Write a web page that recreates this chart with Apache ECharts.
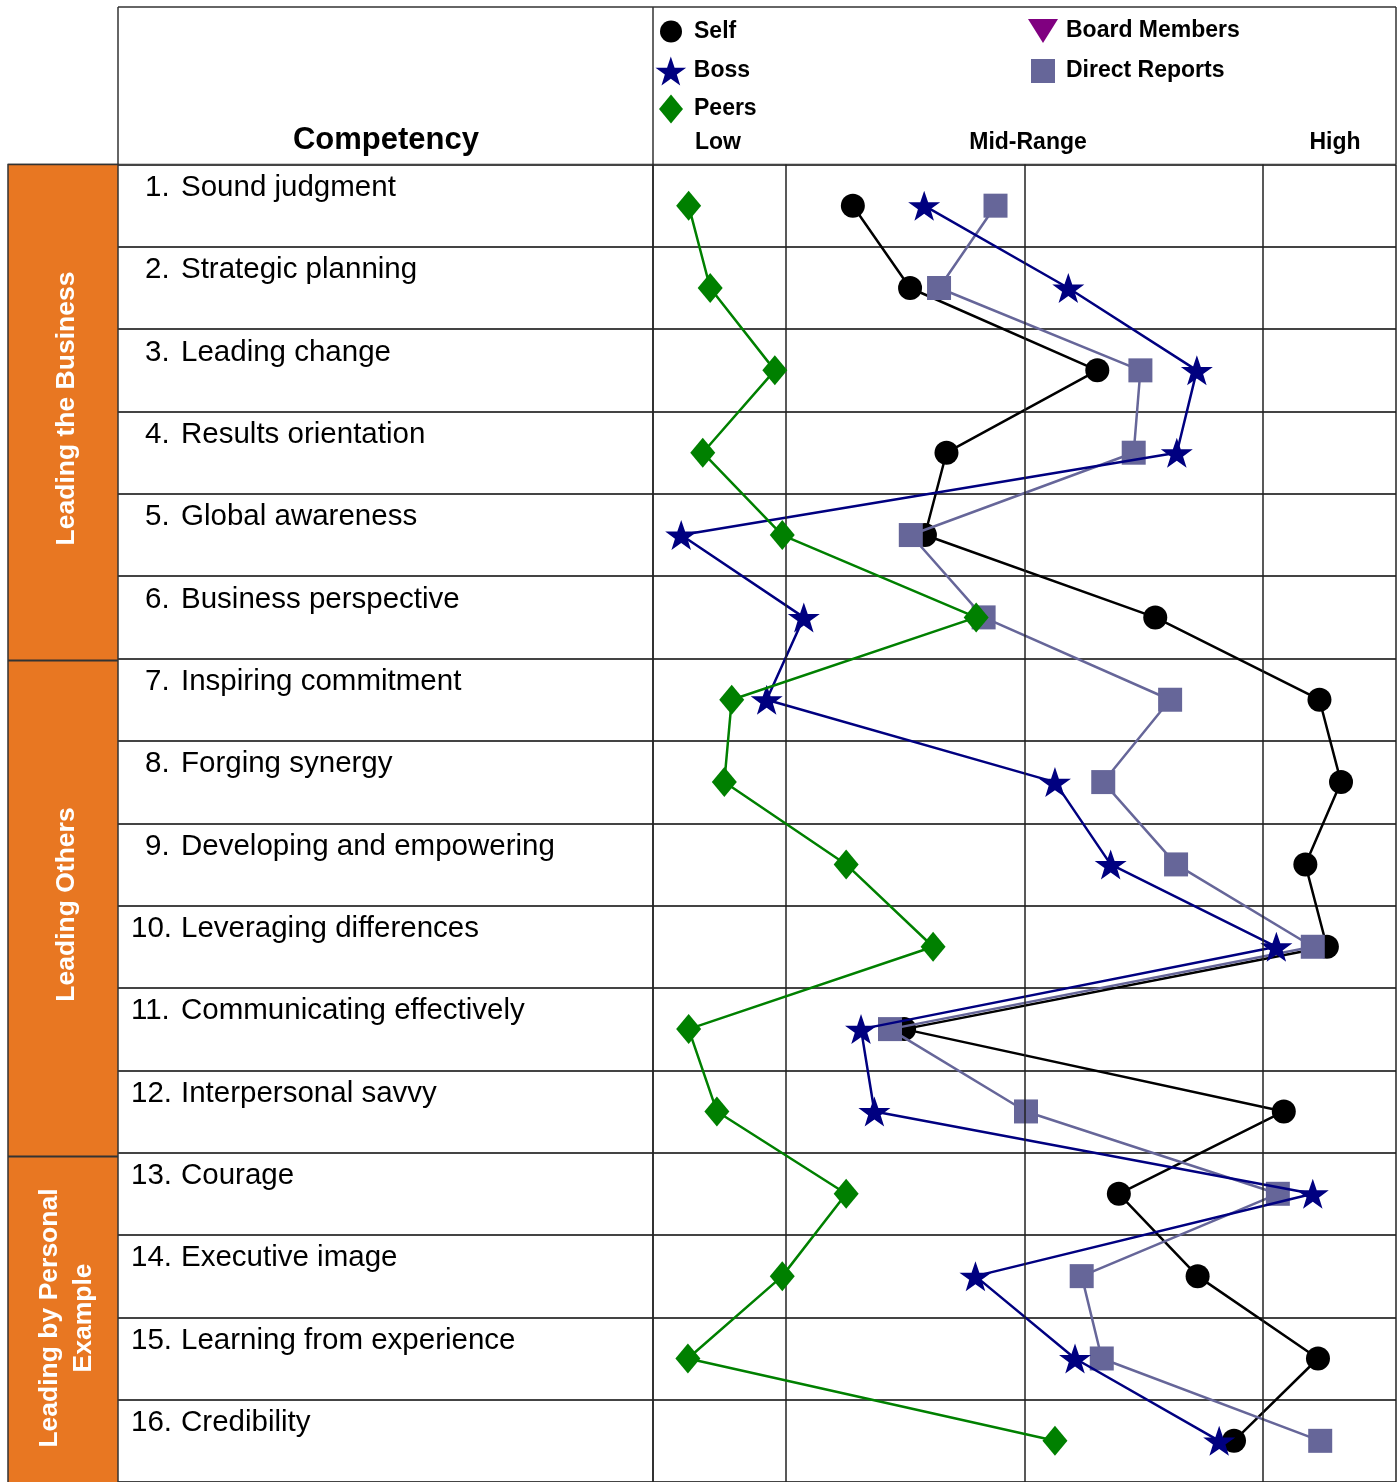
<!DOCTYPE html>
<html>
<head>
<meta charset="utf-8">
<script src="https://cdn.jsdelivr.net/npm/echarts@6/dist/echarts.min.js"></script>
<style>
html,body{margin:0;padding:0;background:#fff;}
#chart{width:1400px;height:1482px;}
</style>
</head>
<body>
<div id="chart"></div>
<script>
// ---- data ----
const categories = [
  '1. Sound judgment', '2. Strategic planning', '3. Leading change', '4. Results orientation',
  '5. Global awareness', '6. Business perspective', '7. Inspiring commitment', '8. Forging synergy',
  '9. Developing and empowering', '10. Leveraging differences', '11. Communicating effectively',
  '12. Interpersonal savvy', '13. Courage', '14. Executive image', '15. Learning from experience',
  '16. Credibility'
];
const selfScores   = [26.9, 34.6, 59.8, 39.5, 36.6, 67.6, 89.7, 92.6, 87.8, 90.7, 33.8, 84.9, 62.7, 73.3, 89.5, 78.2];
const bossScores   = [36.5, 55.9, 73.2, 70.5, 3.8, 20.3, 15.3, 54.1, 61.6, 83.9, 28.0, 29.8, 88.8, 43.4, 56.8, 76.2];
const peerScores   = [4.8, 7.7, 16.4, 6.7, 17.4, 43.5, 10.6, 9.6, 26.0, 37.7, 4.8, 8.6, 26.0, 17.4, 4.7, 54.1];
const directScores = [46.1, 38.5, 65.6, 64.7, 34.7, 44.5, 69.6, 60.6, 70.4, 88.8, 31.9, 50.2, 84.1, 57.7, 60.4, 89.8];
const boardScores  = [];
const scaleLabels  = ['Low', 'Mid-Range', 'High'];
const bandLines    = [0, 17.9, 50, 82, 100];
const sectionNames = ['Leading the Business', 'Leading Others', 'Leading by Personal\nExample'];
const sectionRows  = [6, 6, 4];

// ---- layout ----
const FONT = '"Liberation Sans", Arial, sans-serif';
const gridLeft = 118, gridRight = 1396, plotLeft = 653;
const gridTop = 164.5, rowH = 82.67;
const xMin = -72, xMax = 100;
const STAR = 'path://M50,0 L61.8,35.1 L98.1,35.1 L68.8,56.7 L79.4,91 L50,70 L20.6,91 L31.2,56.7 L1.9,35.1 L38.2,35.1 Z';
const TRI_DOWN = 'path://M0,0 L100,0 L50,80 Z';
const LINE_C = '#333';

const chart = echarts.init(document.getElementById('chart'), null, {renderer: 'canvas'});

const graphics = [];
// header frame
graphics.push({type:'line', shape:{x1:gridLeft, y1:7, x2:gridRight, y2:7}, style:{stroke:LINE_C, lineWidth:1.5}});
[gridLeft, plotLeft, gridRight].forEach(x => {
  graphics.push({type:'line', shape:{x1:x, y1:7, x2:x, y2:gridTop}, style:{stroke:LINE_C, lineWidth:1.5}});
});
graphics.push({type:'line', shape:{x1:8, y1:gridTop, x2:gridRight, y2:gridTop}, style:{stroke:LINE_C, lineWidth:1.5}});
// orange section column
graphics.push({type:'rect', z:1, shape:{x:8, y:gridTop, width:gridLeft-8, height:1400}, style:{fill:'#E87722', stroke:LINE_C, lineWidth:1.5}});
let acc = 0;
sectionNames.forEach((name, i) => {
  const y0 = gridTop + acc * rowH;
  if (i > 0) graphics.push({type:'line', z:2, shape:{x1:8, y1:y0, x2:gridLeft, y2:y0}, style:{stroke:LINE_C, lineWidth:2}});
  const cy = (y0 + (gridTop + (acc + sectionRows[i]) * rowH)) / 2 - 4;
  graphics.push({type:'text', z:3, x:67, y: i === 2 ? 1318 : cy, rotation: Math.PI/2,
    style:{text:name, fill:'#fff', font:'bold 26.5px ' + FONT, textAlign:'center', textVerticalAlign:'middle', lineHeight:34}});
  acc += sectionRows[i];
});
// header texts
graphics.push({type:'text', x:386, y:140, style:{text:'Competency', fill:'#000', font:'bold 31px ' + FONT, textAlign:'center', textVerticalAlign:'middle'}});
const scaleX = [718, 1028, 1335];
scaleLabels.forEach((t, i) => {
  graphics.push({type:'text', x:scaleX[i], y:143, style:{text:t, fill:'#000', font:'bold 23px ' + FONT, textAlign:'center', textVerticalAlign:'middle'}});
});

function legendItem(name, icon, w, h, cx, cy, textX) {
  const left = cx - w / 2;
  return {
    orient:'vertical', left:left, top:cy - h / 2, padding:0, itemWidth:w, itemHeight:h,
    selectedMode:false,
    textStyle:{fontSize:23, fontWeight:'bold', color:'#000', fontFamily:FONT, padding:[0,0,0, textX - (left + w + 5)]},
    data:[{name:name, icon:icon}]
  };
}

const labelText = {fontSize:29.5, fontFamily:FONT, color:'#000'};

const option = {
  animation: false,
  backgroundColor: '#fff',
  grid: {left: gridLeft, top: gridTop, width: gridRight - gridLeft, height: rowH * 16, containLabel: false},
  legend: [
    legendItem('Self', 'circle', 22, 22, 671, 31, 694),
    legendItem('Boss', STAR, 31, 29, 671, 71, 694),
    legendItem('Peers', 'diamond', 24, 29, 671, 109, 694),
    legendItem('Board Members', TRI_DOWN, 30, 24, 1043, 31, 1066),
    legendItem('Direct Reports', 'rect', 24, 24, 1043, 71, 1066)
  ],
  xAxis: {type:'value', min:xMin, max:xMax, show:false, splitLine:{show:false}},
  yAxis: {
    type:'category', inverse:true, data:categories, boundaryGap:true,
    axisLine:{show:true, lineStyle:{color:LINE_C, width:1.5}},
    axisTick:{show:false},
    splitLine:{show:true, lineStyle:{color:'#444', width:1.8}},
    axisLabel:{
      inside:true, margin:13, align:'left', verticalAlign:'middle', padding:[0,0,36,0],
      formatter: v => {
        const k = v.indexOf('. ');
        const num = v.slice(0, k + 1), txt = v.slice(k + 2);
        return num.length < 3
          ? '{s| }{n1|' + num + '}{t|' + txt + '}'
          : '{n2|' + num + '}{t|' + txt + '}';
      },
      rich:{
        s: Object.assign({width:14}, labelText),
        n1: Object.assign({width:36, align:'left'}, labelText),
        n2: Object.assign({width:50, align:'left'}, labelText),
        t: labelText
      }
    }
  },
  graphic: graphics,
  series: [
    {name:'Self', type:'line', data:selfScores, symbol:'circle', symbolSize:24,
     itemStyle:{color:'#000'}, lineStyle:{color:'#000', width:2.5}, z:2,
     markLine:{silent:true, symbol:'none', label:{show:false}, animation:false,
       lineStyle:{color:'#222', width:1.5, type:'solid'}, data: bandLines.map(v => ({xAxis:v}))}},
    {name:'Board Members', type:'line', data:boardScores, symbol:TRI_DOWN, symbolSize:24,
     itemStyle:{color:'#800080'}, lineStyle:{color:'#800080', width:2.5}, z:2},
    {name:'Direct Reports', type:'line', data:directScores, symbol:'rect', symbolSize:24,
     itemStyle:{color:'#666699'}, lineStyle:{color:'#666699', width:2.5}, z:3},
    {name:'Boss', type:'line', data:bossScores, symbol:STAR, symbolSize:[32,30],
     itemStyle:{color:'#000080'}, lineStyle:{color:'#000080', width:2.5}, z:4},
    {name:'Peers', type:'line', data:peerScores, symbol:'diamond', symbolSize:[25,30],
     itemStyle:{color:'#008000'}, lineStyle:{color:'#008000', width:2.5}, z:5}
  ]
};
chart.setOption(option);
</script>
</body>
</html>
